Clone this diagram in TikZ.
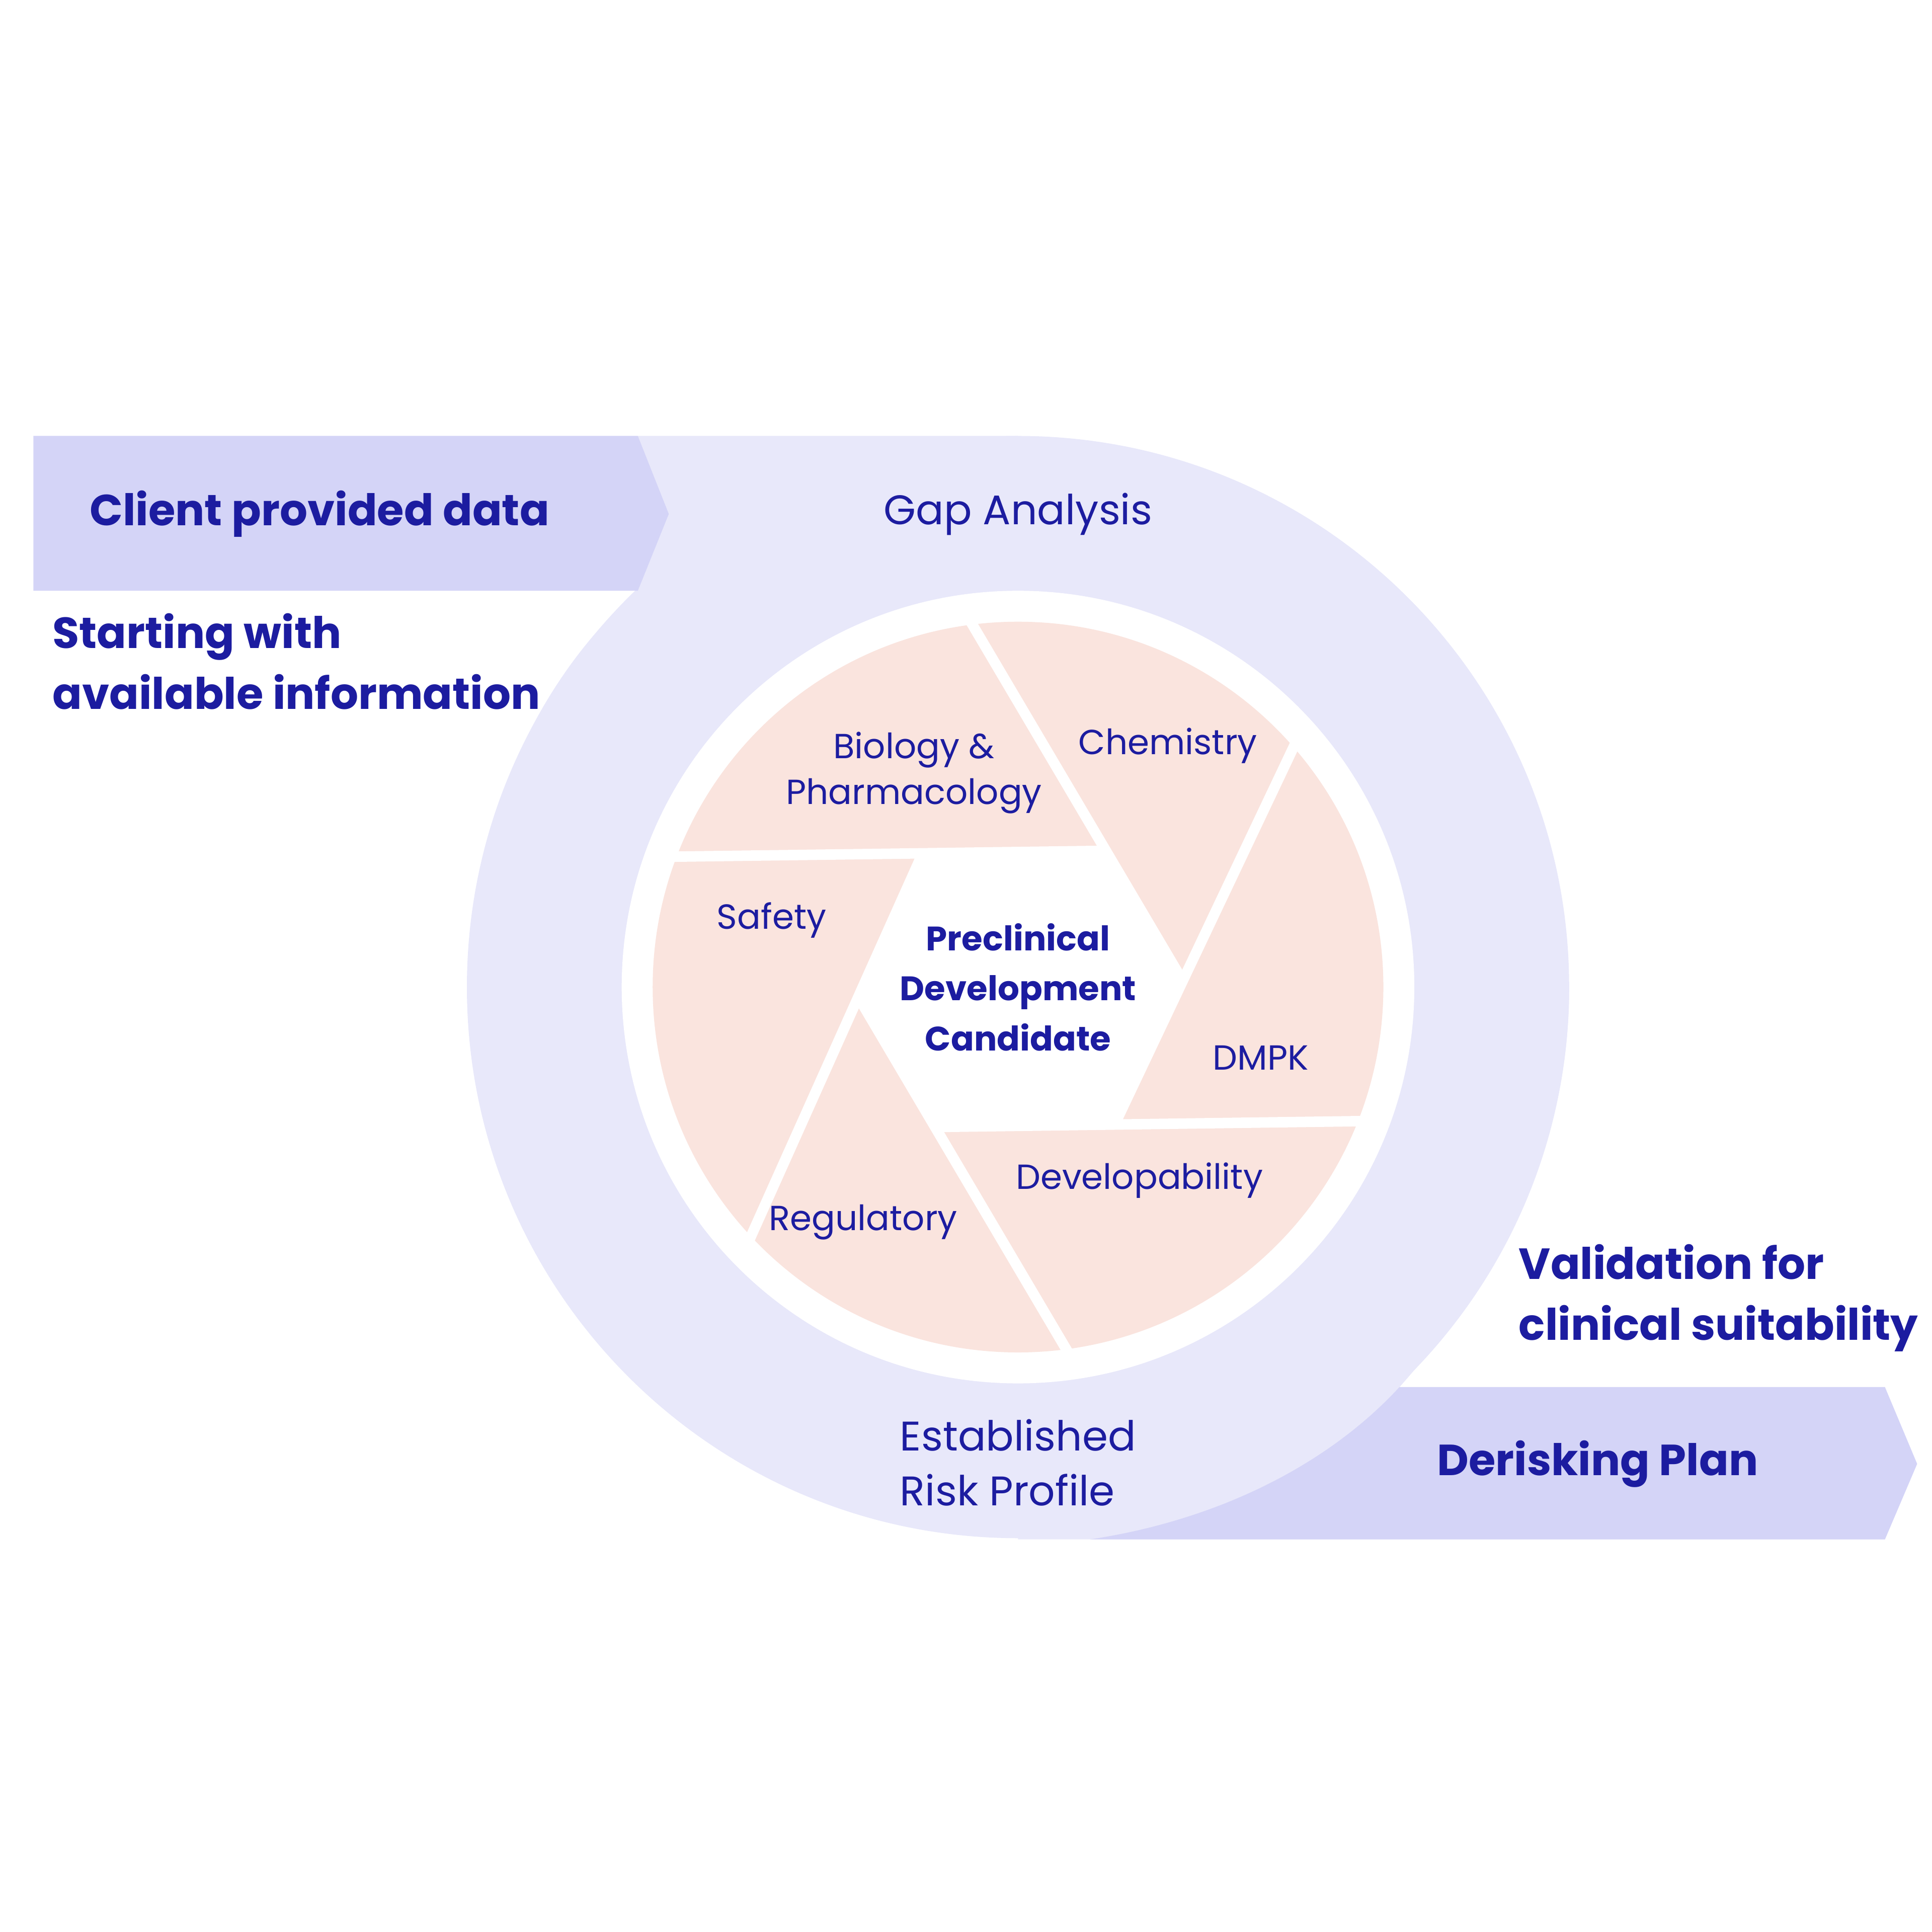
\documentclass[tikz,border=0pt]{standalone}
\usepackage{fontspec}
\setmainfont{Poppins}
\usetikzlibrary{calc}
\definecolor{ringblue}{HTML}{E8E8FA}
\definecolor{bannerblue}{HTML}{D4D4F7}
\definecolor{bladepink}{HTML}{FAE4DE}
\definecolor{inkblue}{HTML}{1C1CA0}
\tikzset{
  label txt/.style={text=inkblue,font=\fontsize{8}{10.5}\selectfont,align=center},
  ring txt/.style={text=inkblue,font=\fontsize{9.5}{12.5}\selectfont,align=left},
  bold txt/.style={text=inkblue,font=\bfseries\fontsize{10}{14}\selectfont,align=left},
  gap/.style={white,line width=2.4pt}
}
\begin{document}
\begin{tikzpicture}[x=0.01cm,y=-0.01cm]
  \useasboundingbox (0,0) rectangle (1560,1560);
  \coordinate (O) at (822,797);
  % outer ring and its tails
  \fill[ringblue] (O) circle (445);
  \fill[ringblue] (515,352) -- (822,352) -- (822,797) -- (378,797)
    .. controls (378,690) and (420,560) .. (515,477) -- cycle;
  \fill[ringblue] (822,1243) -- (1522,1243) -- (1522,1120) -- (1130,1120)
    .. controls (1210,1030) and (1267,930) .. (1267,797) -- (822,797) -- cycle;
  \fill[bannerblue] (27,352) -- (515,352) -- (540,415) -- (515,477) -- (27,477) -- cycle;
  \fill[bannerblue] (1130,1120) -- (1522,1120) -- (1548,1182) -- (1522,1243) -- (880,1243)
    .. controls (980,1228) and (1070,1185) .. (1130,1120) -- cycle;
  \fill[white] (O) circle (320);
  % aperture
  \fill[bladepink] (O) circle (295);
  \coordinate (h1) at (745,689);
  \coordinate (h2) at (893,687);
  \coordinate (h3) at (955,792);
  \coordinate (h4) at (900,908);
  \coordinate (h5) at (755,910);
  \coordinate (h6) at (693,805);
  \fill[white] (h1) -- (h2) -- (h3) -- (h4) -- (h5) -- (h6) -- cycle;
  \begin{scope}
    \clip (O) circle (296);
    \draw[gap] (h2) -- ($(h2)!3!(h1)$);
    \draw[gap] (h3) -- ($(h3)!3!(h2)$);
    \draw[gap] (h4) -- ($(h4)!3!(h3)$);
    \draw[gap] (h5) -- ($(h5)!3!(h4)$);
    \draw[gap] (h6) -- ($(h6)!3!(h5)$);
    \draw[gap] (h1) -- ($(h1)!3!(h6)$);
  \end{scope}
  % texts
  \node[bold txt,anchor=west] (client) at (60,415) {Client provided data};
  \node[bold txt,anchor=west] (start) at (30,534) {Starting with\\available information};
  \node[ring txt] (gap) at (822,415) {Gap Analysis};
  \node[ring txt] (risk) at (822,1181) {Established\\Risk Profile};
  \node[bold txt,anchor=west] (valid) at (1214,1048) {Validation for\\clinical suitability};
  \node[bold txt] (derisk) at (1290,1182) {Derisking Plan};
  \node[label txt,font=\bfseries\fontsize{7.8}{11.5}\selectfont] (core) at (O) {Preclinical\\Development\\Candidate};
  \node[label txt] (bio) at (738,624) {Biology \&\\Pharmacology};
  \node[label txt] (chem) at (943,602) {Chemistry};
  \node[label txt] (dmpk) at (1018,854) {DMPK};
  \node[label txt] (dev) at (920,953) {Developability};
  \node[label txt] (reg) at (697,987) {Regulatory};
  \node[label txt] (safe) at (623,743) {Safety};
\end{tikzpicture}
\end{document}
